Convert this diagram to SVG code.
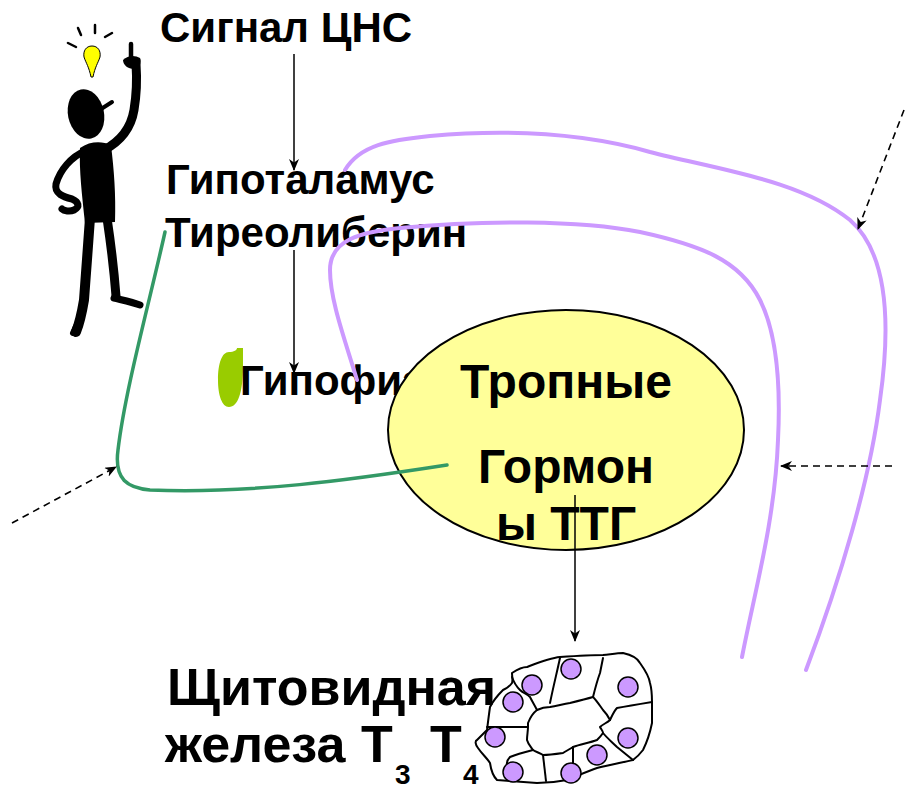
<svg xmlns="http://www.w3.org/2000/svg" width="906" height="789" viewBox="0 0 906 789">
  <style>
    .t { font-family: "Liberation Sans", Arial, sans-serif; font-weight: bold; fill: #000; }
    .purple { fill: none; stroke: #CC99FF; stroke-width: 4; stroke-linecap: round; }
    .green { fill: none; stroke: #339966; stroke-width: 3.5; stroke-linecap: round; }
    .solid { fill: none; stroke: #000; stroke-width: 1.5; }
    .dash { fill: none; stroke: #000; stroke-width: 1.6; stroke-dasharray: 7 5; }
    .cell { fill: #CC99FF; stroke: #000; stroke-width: 1.5; }
    .wall { fill: none; stroke: #000; stroke-width: 2; stroke-linejoin: round; stroke-linecap: round; }
    .body { fill: none; stroke: #000; stroke-linecap: round; stroke-linejoin: round; }
  </style>
  <defs>
    <marker id="head" viewBox="0 0 12 10" refX="11" refY="5" markerWidth="12" markerHeight="10" markerUnits="userSpaceOnUse" orient="auto">
      <path d="M0,0 L12,5 L0,10 L3.5,5 Z" fill="#000"/>
    </marker>
  </defs>
  <rect width="906" height="789" fill="#fff"/>

  <!-- thinking figure with light bulb -->
  <g id="figure">
    <g stroke="#000" stroke-width="2.5" stroke-linecap="round">
      <line x1="68" y1="43" x2="76" y2="47"/>
      <line x1="78" y1="28" x2="81" y2="35"/>
      <line x1="95" y1="25" x2="95" y2="33"/>
      <line x1="112" y1="33" x2="105" y2="37"/>
    </g>
    <path d="M92,46 C98,46 101,51 100,57 C98,63 95,67 93,77 L91,77 C89,67 86,63 84,57 C83,51 86,46 92,46 Z" fill="#FFFF00" stroke="#000" stroke-width="1"/>
    <ellipse cx="86" cy="114" rx="18" ry="25" transform="rotate(-12 86 114)" fill="#000"/>
    <path class="body" d="M98,111 L112,102" stroke-width="4"/>
    <path d="M80,148 C90,141 102,141 111,145 C114,170 116,195 115,222 L85,223 C82,195 79,170 80,148 Z" fill="#000"/>
    <path class="body" d="M104,150 C121,141 131,128 134,110 C137,92 137,78 136,64" stroke-width="9"/>
    <path d="M123,60 C128,55 135,55 140,58 C142,62 140,68 134,69 C128,69 123,65 123,60 Z" fill="#000"/>
    <path class="body" d="M131,60 L131,44" stroke-width="4.5"/>
    <path class="body" d="M85,151 C71,157 60,170 56,184 C54,194 64,197 72,199 C79,202 80,207 74,210 C70,212 64,211 62,209" stroke-width="7"/>
    <path class="body" d="M90,218 C88,245 86,275 84,300 C82,312 80,322 76,332" stroke-width="10"/>
    <path class="body" d="M73,333 L80,318" stroke-width="6"/>
    <path class="body" d="M107,218 C111,245 114,270 116,296" stroke-width="9"/>
    <path class="body" d="M114,298 C122,300 132,302 140,305" stroke-width="7"/>
  </g>

  <!-- labels of the pathway -->
  <g id="cns">
    <text class="t" x="160" y="42" font-size="42">Сигнал ЦНС</text>
  </g>
  <g id="hypothalamus">
    <text class="t" x="166" y="194" font-size="42">Гипоталамус</text>
    <text class="t" x="165" y="247" font-size="42">Тиреолиберин</text>
  </g>
  <g id="pituitary">
    <path d="M229,352 C234,352 237,350 237,348 L243,348 L243,366 C243,392 238,407 229,407 C222,407 218,395 218,380 C218,363 222,352 229,352 Z" fill="#99CC00"/>
    <text class="t" x="240" y="395" font-size="42">Гипофиз</text>
  </g>
  <g id="tropic">
    <ellipse cx="566" cy="430" rx="178" ry="120" fill="#FFFF99" stroke="#000" stroke-width="2"/>
    <text class="t" x="566" y="398" font-size="48" text-anchor="middle">Тропные</text>
    <text class="t" x="566" y="483" font-size="48" text-anchor="middle">Гормон</text>
    <text class="t" x="566" y="540" font-size="48" text-anchor="middle">ы ТТГ</text>
  </g>

  <!-- thyroid follicle -->
  <g id="thyroid">
    <text class="t" x="167" y="705" font-size="52">Щитовидная</text>
    <text class="t" x="165" y="762" font-size="52">железа</text>
    <text class="t" x="361" y="762" font-size="52">Т</text>
    <text class="t" x="395" y="784" font-size="28">3</text>
    <text class="t" x="430" y="762" font-size="52">Т</text>
    <text class="t" x="463" y="784" font-size="28">4</text>
    <path class="wall" d="M512,673 C518,669 524,667 527,667 C540,662 550,658 560,657 C575,656 590,655 603,655 C612,654 618,653 623,653 C632,655 638,659 640,663 C645,670 649,676 650,683 C652,690 652,696 652,702 C652,710 652,716 652,723 C650,733 647,742 643,750 C640,754 637,757 633,760 C620,763 608,765 597,768 C588,771 577,776 567,780 C557,782 547,783 537,783 C525,782 510,781 497,780 C493,776 491,770 490,763 C487,758 482,754 478,748 C475,744 475,741 477,740 C480,737 484,733 487,730 C488,722 489,714 490,707 C493,701 498,695 503,690 C507,688 510,686 512,683 C513,680 512,676 512,673 Z" fill="#fff"/>
    <path class="wall" d="M528,723 C530,718 533,713 537,710 C541,708 545,707 550,707 C557,706 563,704 570,703 C578,701 586,699 593,697 C597,701 600,706 603,710 C606,713 608,716 610,720 C607,723 603,724 600,727 C601,729 603,731 603,733 C601,736 599,738 597,740 C589,743 581,744 573,747 C570,749 566,751 563,753 C556,754 549,755 543,755 C540,753 536,752 533,750 C531,747 528,744 527,740 C527,735 528,731 528,727 Z"/>
    <path class="wall" d="M512,677 C514,683 517,687 520,690 C523,693 527,694 530,697 C532,701 535,706 537,710"/>
    <path class="wall" d="M560,658 C557,672 553,688 550,703"/>
    <path class="wall" d="M603,658 C602,663 601,668 600,673 C597,681 595,689 593,697"/>
    <path class="wall" d="M652,702 C640,704 628,706 617,708 C614,711 612,716 610,720"/>
    <path class="wall" d="M633,760 C628,756 622,751 617,747 C612,742 607,738 603,733"/>
    <path class="wall" d="M573,747 L573,770"/>
    <path class="wall" d="M543,755 L546,781"/>
    <path class="wall" d="M487,727 L527,727"/>
    <path class="wall" d="M533,750 C525,752 517,754 510,757 C507,760 506,764 508,768"/>
    <circle class="cell" cx="532" cy="685" r="10"/>
    <circle class="cell" cx="513" cy="702" r="10"/>
    <circle class="cell" cx="571" cy="669" r="10"/>
    <circle class="cell" cx="628" cy="687" r="10"/>
    <circle class="cell" cx="495" cy="737" r="10"/>
    <circle class="cell" cx="628" cy="738" r="10"/>
    <circle class="cell" cx="597" cy="755" r="10"/>
    <circle class="cell" cx="513" cy="772" r="10"/>
    <circle class="cell" cx="571" cy="773" r="10"/>
  </g>

  <!-- feedback loops and signal arrows -->
  <g id="connectors">
    <path class="green" d="M165,232 C150,300 125,390 118,450 C114,480 128,488 150,490 C250,494 350,480 447,465"/>
    <path class="purple" d="M345,170 C360,145 390,140 430,136 C520,128 590,135 650,152 C720,170 800,180 850,220 C890,255 890,330 880,400 C870,480 840,580 806,670"/>
    <path class="purple" d="M357,380 C345,340 330,300 330,270 C330,240 360,232 400,228 C480,220 580,220 640,232 C700,245 740,260 760,300 C780,340 780,400 778,440 C775,520 755,590 742,657"/>
    <line class="solid" x1="294" y1="54" x2="294" y2="170" marker-end="url(#head)"/>
    <line class="solid" x1="294" y1="250" x2="294" y2="373" marker-end="url(#head)"/>
    <line class="solid" x1="575" y1="495" x2="575" y2="641" marker-end="url(#head)"/>
    <line class="dash" x1="12" y1="523" x2="116" y2="467" marker-end="url(#head)"/>
    <line class="dash" x1="904" y1="110" x2="858" y2="229" marker-end="url(#head)"/>
    <line class="dash" x1="892" y1="466" x2="781" y2="466" marker-end="url(#head)"/>
  </g>
</svg>
